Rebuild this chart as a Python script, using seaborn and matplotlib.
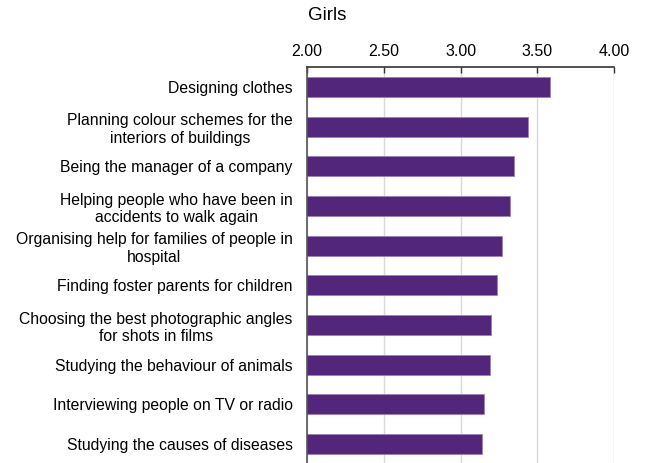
import matplotlib
matplotlib.use("Agg")
import matplotlib.pyplot as plt
import seaborn as sns
import pandas as pd

activities = [
    "Designing clothes",
    "Planning colour schemes for the\ninteriors of buildings",
    "Being the manager of a company",
    "Helping people who have been in\naccidents to walk again",
    "Organising help for families of people in\nhospital",
    "Finding foster parents for children",
    "Choosing the best photographic angles\nfor shots in films",
    "Studying the behaviour of animals",
    "Interviewing people on TV or radio",
    "Studying the causes of diseases",
]
scores = [3.58, 3.44, 3.35, 3.32, 3.27, 3.24, 3.20, 3.19, 3.15, 3.14]
ticks = [2.00, 2.50, 3.00, 3.50, 4.00]

sns.set_theme(style="white")
plt.rcParams["font.family"] = ["Liberation Sans", "DejaVu Sans"]

df = pd.DataFrame({"activity": activities, "score": scores})

fig = plt.figure(figsize=(6.46, 4.63), dpi=100)
ax = fig.add_axes([0.4748, -0.002, 0.4762, 0.857])

sns.barplot(data=df, x="score", y="activity", color="#52267a", width=0.5,
            saturation=1, edgecolor="#9a82b5", linewidth=0.6, ax=ax)

ax.set_xlim(2.0, 4.0)
ax.set_ylim(9.5, -0.5)
ax.set_xticks(ticks)
ax.set_xticklabels([f"{t:.2f}" for t in ticks], fontsize=11.5, color="black")
ax.xaxis.tick_top()
ax.tick_params(axis="x", direction="in", length=4, width=1, color="#333333",
               pad=6, top=True, bottom=False)

# activity names: right-aligned beside the axis, wrapped lines centred
ax.set_yticks(range(len(activities)))
ax.tick_params(axis="y", length=0, labelleft=False)
for i, name in enumerate(activities):
    ax.annotate(name, xy=(0, i), xycoords=("axes fraction", "data"),
                xytext=(-10, 0), textcoords="offset points",
                ha="right", va="center_baseline", multialignment="center",
                fontsize=11.3, color="black", annotation_clip=False)

ax.grid(axis="x", color="#d9d9d9", linewidth=1)
ax.set_axisbelow(True)
for side in ["right", "bottom"]:
    ax.spines[side].set_visible(False)
ax.spines["top"].set_color("#333333")
ax.spines["left"].set_color("#555555")
ax.spines["top"].set_linewidth(1.2)
ax.spines["left"].set_linewidth(1.2)
ax.set_xlabel("")
ax.set_ylabel("")

fig.text(308 / 646, 1 - 16 / 463, "Girls", fontsize=13.5, color="black",
         ha="left", va="center")

fig.savefig("out.png", dpi=100)
